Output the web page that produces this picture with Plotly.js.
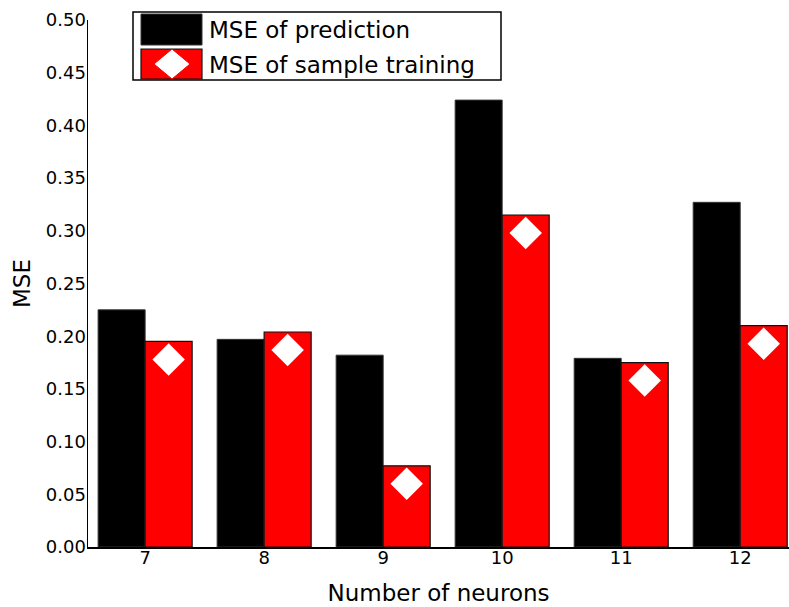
<!DOCTYPE html>
<html>
<head>
<meta charset="utf-8">
<script src="https://cdn.plot.ly/plotly-3.0.1.min.js"></script>
<style>
html,body{margin:0;padding:0;background:#fff;}
#chart{width:789px;height:607px;}
</style>
</head>
<body>
<div id="chart"></div>
<script>
const neurons = [7, 8, 9, 10, 11, 12];
const msePrediction = [0.225, 0.197, 0.182, 0.424, 0.179, 0.327];
const mseTraining = [0.195, 0.204, 0.077, 0.315, 0.175, 0.210];
const seriesNames = ['MSE of prediction', 'MSE of sample training'];
const yTickVals = [0, 0.05, 0.10, 0.15, 0.20, 0.25, 0.30, 0.35, 0.40, 0.45, 0.50];
const yTickText = ['0.00','0.05','0.10','0.15','0.20','0.25','0.30','0.35','0.40','0.45','0.50'];

const W = 789, H = 607;
const mL = 88, mR = 0, mT = 20, mB = 60;
const plotH = H - mT - mB;
const plotW = W - mL - mR;
const yRange = [0, 0.5];
const xRange = [6.52, 12.41];
const barW = 0.395;
// diamond sits a fixed number of pixels below the red bar top
const diamondPx = 18;
const dy = diamondPx * (yRange[1] - yRange[0]) / plotH;

const font = 'DejaVu Sans, Arial, sans-serif';

const traces = [
  {
    type: 'bar', name: seriesNames[0], x: neurons, y: msePrediction,
    width: barW, offset: -barW,
    marker: {color: '#000000', line: {color: '#333333', width: 1}},
    showlegend: false, hoverinfo: 'x+y'
  },
  {
    type: 'bar', name: seriesNames[1], x: neurons, y: mseTraining,
    width: barW, offset: 0,
    marker: {color: '#ff0000', line: {color: '#111111', width: 1.2}},
    showlegend: false, hoverinfo: 'x+y'
  },
  {
    type: 'scatter', mode: 'markers', x: neurons.map(v => v + barW / 2),
    y: mseTraining.map(v => v - dy),
    marker: {symbol: 'diamond', size: 25, color: '#ffffff', line: {width: 0}},
    showlegend: false, hoverinfo: 'skip'
  }
];

function px2x(px){ return (px - mL) / plotW; }
function py2y(py){ return (H - mB - py) / plotH; }

// legend drawn manually (large swatches as in the reference)
const lgX0 = px2x(133), lgX1 = px2x(501), lgY0 = py2y(80), lgY1 = py2y(12);
const swX0 = px2x(141), swX1 = px2x(202);
const dcx = 172, dcy = 64, dw = 18, dh = 15;
const diamondPath = 'M' + px2x(dcx - dw) + ',' + py2y(dcy) +
  ' L' + px2x(dcx) + ',' + py2y(dcy - dh) +
  ' L' + px2x(dcx + dw) + ',' + py2y(dcy) +
  ' L' + px2x(dcx) + ',' + py2y(dcy + dh) + ' Z';

const shapes = [
  {type: 'rect', xref: 'paper', yref: 'paper', x0: lgX0, x1: lgX1, y0: lgY0, y1: lgY1,
   line: {color: '#000', width: 1.5}, fillcolor: 'rgba(255,255,255,1)', layer: 'above'},
  {type: 'rect', xref: 'paper', yref: 'paper', x0: swX0, x1: swX1, y0: py2y(45), y1: py2y(14),
   line: {color: '#333', width: 1}, fillcolor: '#000', layer: 'above'},
  {type: 'rect', xref: 'paper', yref: 'paper', x0: swX0, x1: swX1, y0: py2y(79), y1: py2y(49),
   line: {color: '#111', width: 1.2}, fillcolor: '#ff0000', layer: 'above'},
  {type: 'path', xref: 'paper', yref: 'paper', path: diamondPath,
   line: {color: '#ff0000', width: 1}, fillcolor: '#ffffff', layer: 'above'}
];

const annotations = [
  {xref: 'paper', yref: 'paper', x: px2x(207), y: py2y(30), xanchor: 'left', yanchor: 'middle',
   text: seriesNames[0], showarrow: false, font: {family: font, size: 23, color: '#000'}},
  {xref: 'paper', yref: 'paper', x: px2x(207), y: py2y(65), xanchor: 'left', yanchor: 'middle',
   text: seriesNames[1], showarrow: false, font: {family: font, size: 23, color: '#000'}}
];

const layout = {
  width: W, height: H,
  margin: {l: mL, r: mR, t: mT, b: mB, pad: 0},
  paper_bgcolor: '#ffffff', plot_bgcolor: '#ffffff',
  showlegend: false,
  barmode: 'overlay',
  font: {family: font, color: '#000'},
  xaxis: {
    range: xRange, tickvals: neurons, ticktext: neurons.map(String),
    showgrid: false, zeroline: false, showline: true, linecolor: '#000', linewidth: 1.5,
    ticks: '', tickfont: {family: font, size: 18, color: '#000'}, ticklabelstandoff: -6,
    title: {text: 'Number of neurons', font: {family: font, size: 23, color: '#000'}, standoff: 18},
    fixedrange: true
  },
  yaxis: {
    range: yRange, tickvals: yTickVals, ticktext: yTickText,
    showgrid: false, zeroline: false, showline: true, linecolor: '#000', linewidth: 1.5,
    ticks: '', tickfont: {family: font, size: 18, color: '#000'}, ticklabelstandoff: -3,
    title: {text: 'MSE', font: {family: font, size: 23, color: '#000'}, standoff: 9},
    fixedrange: true
  },
  shapes: shapes,
  annotations: annotations
};

Plotly.newPlot('chart', traces, layout, {displayModeBar: false, staticPlot: true});
</script>
</body>
</html>
